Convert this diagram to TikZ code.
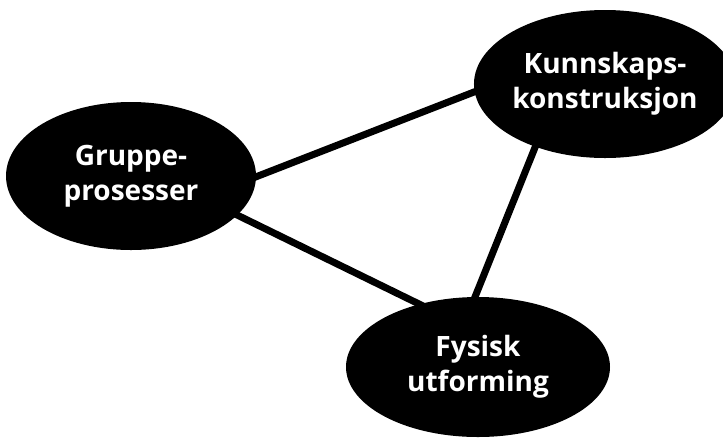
\documentclass[tikz,border=0pt]{standalone}
\usepackage{fontspec}
\setmainfont{Open Sans}
\usetikzlibrary{shapes.geometric}
\tikzset{
  blob/.style={ellipse, fill=black, draw=none, inner sep=0pt, text=white,
    font=\bfseries\fontsize{28}{35}\selectfont, align=center},
  link/.style={line width=7pt, black, shorten <=-20pt, shorten >=-20pt}
}
\begin{document}
\begin{tikzpicture}[x=1pt,y=-1pt]
\useasboundingbox (0,0) rectangle (723,440);
\coordinate (l1a) at (253,178);
\coordinate (l1b) at (492,85);
\coordinate (l2a) at (233,213);
\coordinate (l2b) at (417,303);
\coordinate (l3a) at (538,140);
\coordinate (l3b) at (475,297);
\draw[link] (l1a) -- (l1b);
\draw[link] (l2a) -- (l2b);
\draw[link] (l3a) -- (l3b);
\node[blob, minimum width=250pt, minimum height=148pt] (gp) at (131,176) {Gruppe-\\prosesser};
\node[blob, minimum width=232pt, minimum height=148pt] (kk) at (605,84) {Kunnskaps-\\konstruksjon};
\node[blob, minimum width=264pt, minimum height=140pt] (fu) at (478,367) {Fysisk\\utforming};
\end{tikzpicture}
\end{document}
